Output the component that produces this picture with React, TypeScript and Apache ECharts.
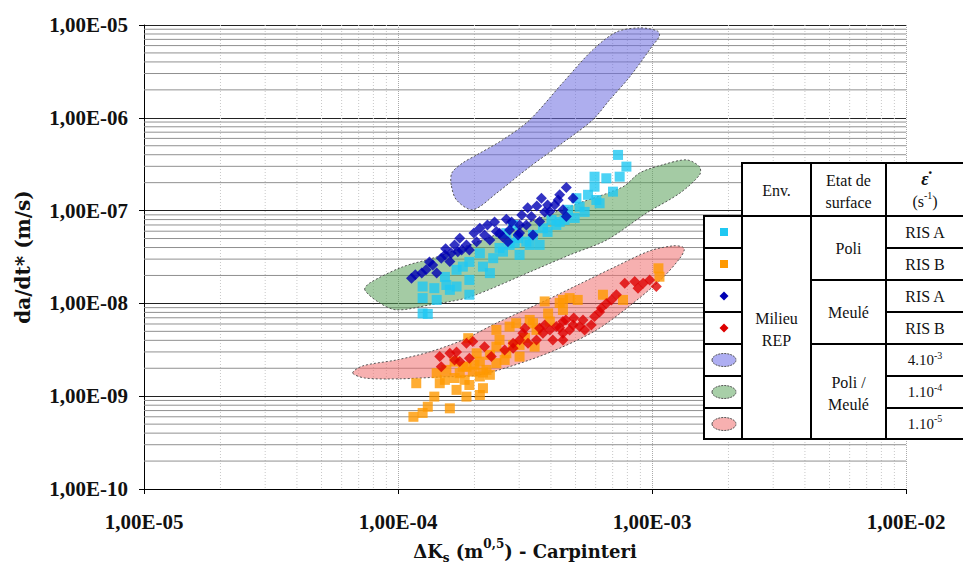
import React, { useEffect, useRef } from "react";
import * as echarts from "echarts";

// ---- data ----
const xRange = [1e-5, 1e-2];
const yRange = [1e-10, 1e-5];

const cyanSquares: [number, number][] = [
  [1.25e-4, 7.8e-9], [1.31e-4, 7.7e-9], [1.25e-4, 1.14e-8], [1.42e-4, 1.09e-8], [1.25e-4, 1.52e-8],
  [1.39e-4, 1.46e-8], [1.55e-4, 1.58e-8], [1.7e-4, 1.52e-8], [1.91e-4, 1.24e-8], [1.7e-4, 2.3e-8],
  [1.8e-4, 2.49e-8], [2.37e-4, 3.07e-8], [2.16e-4, 2.49e-8], [2.3e-4, 2.12e-8], [2.1e-4, 3.47e-8],
  [2.59e-4, 3.61e-8], [2.67e-4, 5.71e-8], [2.75e-4, 4.27e-8], [2.97e-4, 5.04e-8], [3.2e-4, 4.63e-8],
  [3.4e-4, 5.47e-8], [3.72e-4, 6.46e-8], [4.02e-4, 7.94e-8], [4.2e-4, 7.01e-8], [4.53e-4, 7.94e-8],
  [4.67e-4, 1.02e-7], [5.04e-4, 1.36e-7], [5.19e-4, 1.1e-7], [5.6e-4, 1.48e-7], [6.04e-4, 1.3e-7],
  [6.22e-4, 1.2e-7], [5.94e-4, 1.81e-7], [5.94e-4, 2.32e-7], [6.61e-4, 2.23e-7], [7.46e-4, 2.32e-7],
  [7.02e-4, 1.6e-7], [7.93e-4, 2.98e-7], [7.35e-4, 3.98e-7], [2.84e-4, 7.01e-8], [1.91e-4, 2.8e-8],
  [1.53e-4, 1.93e-8], [3.61e-4, 4.27e-8], [4.96e-4, 8.34e-8], [5.43e-4, 9.68e-8],
  [2.51e-4, 3.96e-8], [2.88e-4, 4.49e-8], [3.3e-4, 4.27e-8], [3.88e-4, 5.89e-8], [4.33e-4, 7.55e-8],
  [1.91e-4, 1.79e-8], [1.6e-4, 1.4e-8], [3.01e-4, 3.33e-8],
];

const orangeSquares: [number, number][] = [
  [1.15e-4, 6.0e-10], [1.25e-4, 6.6e-10], [1.31e-4, 7.7e-10], [1.39e-4, 9.9e-10], [1.6e-4, 7.4e-10],
  [1.7e-4, 1.17e-9], [1.86e-4, 9.9e-10], [2.1e-4, 1.03e-9], [2.16e-4, 1.22e-9], [1.18e-4, 1.38e-9],
  [1.46e-4, 1.38e-9], [1.42e-4, 1.77e-9], [1.55e-4, 1.92e-9], [1.75e-4, 1.77e-9], [1.97e-4, 1.84e-9],
  [2.1e-4, 1.63e-9], [1.67e-4, 2.36e-9], [1.86e-4, 2.08e-9], [2.1e-4, 2.36e-9], [2.23e-4, 1.92e-9],
  [2.04e-4, 2.9e-9], [2.3e-4, 2.79e-9], [2.44e-4, 2.27e-9], [2.44e-4, 3.42e-9], [2.67e-4, 2.9e-9],
  [2.51e-4, 4.04e-9], [2.84e-4, 3.57e-9], [2.75e-4, 5.62e-9], [2.44e-4, 5.18e-9], [2.92e-4, 6.12e-9],
  [3.3e-4, 6.64e-9], [3.51e-4, 5.18e-9], [1.89e-4, 4.22e-9], [3.01e-4, 2.67e-9], [1.06e-3, 2.39e-8],
  [1.07e-3, 1.94e-8], [6.41e-4, 1.24e-8], [3.78e-4, 1.05e-8], [4.46e-4, 1.09e-8], [4.74e-4, 1.14e-8],
  [4.46e-4, 8.5e-9], [3.9e-4, 7.8e-9], [3.96e-4, 6.37e-9], [3.4e-4, 6.12e-9], [3.45e-4, 3.42e-9],
  [7.69e-4, 1.09e-8], [1.8e-4, 2.08e-9], [2.16e-4, 1.8e-9],
  [1.53e-4, 1.5e-9], [1.67e-4, 1.57e-9], [1.83e-4, 1.5e-9], [2.0e-4, 2.18e-9], [2.3e-4, 1.7e-9],
  [2.63e-4, 2.46e-9], [1.91e-4, 1.32e-9], [3.01e-4, 3.57e-9], [3.16e-4, 4.25e-9], [4.33e-4, 1.01e-8],
  [5.1e-4, 1.09e-8],
];

const blueDiamonds: [number, number][] = [
  [1.13e-4, 1.87e-8], [1.24e-4, 2.12e-8], [1.29e-4, 2.3e-8], [1.42e-4, 2.12e-8], [1.37e-4, 2.6e-8],
  [1.48e-4, 3.07e-8], [1.6e-4, 2.82e-8], [1.54e-4, 3.87e-8], [1.62e-4, 3.47e-8], [1.72e-4, 3.61e-8],
  [1.91e-4, 3.77e-8], [1.75e-4, 5.04e-8], [1.86e-4, 4.27e-8], [2.04e-4, 4.63e-8], [2.1e-4, 6.46e-8],
  [2.19e-4, 5.47e-8], [2.3e-4, 4.83e-8], [2.44e-4, 5.94e-8], [2.58e-4, 5.24e-8], [2.67e-4, 8.08e-8],
  [2.51e-4, 5.71e-8], [2.71e-4, 4.63e-8], [2.75e-4, 6.19e-8], [2.97e-4, 5.47e-8], [3.2e-4, 7.01e-8],
  [3.35e-4, 8.62e-8], [3.61e-4, 7.61e-8], [3.67e-4, 1.36e-7], [3.96e-4, 9.75e-8], [4.27e-4, 1.3e-7],
  [4.46e-4, 1.02e-7], [4.6e-4, 8.62e-8], [4.89e-4, 1.36e-7], [4.6e-4, 1.77e-7], [3.4e-4, 5.47e-8],
  [3.01e-4, 7.01e-8], [1.67e-4, 4.27e-8], [1.17e-4, 2.03e-8], [3.88e-4, 1.15e-7],
  [2.25e-4, 7.01e-8], [2.4e-4, 7.55e-8], [2.8e-4, 7.55e-8], [3.07e-4, 8.99e-8], [3.24e-4, 1.07e-7],
  [3.52e-4, 1.12e-7], [3.78e-4, 9.68e-8], [4.14e-4, 1.15e-7], [4.33e-4, 1.48e-7], [3.01e-4, 5.75e-8],
  [1.99e-4, 5.75e-8], [1.78e-4, 3.77e-8], [1.33e-4, 2.8e-8], [1.53e-4, 3.33e-8],
];

const redDiamonds: [number, number][] = [
  [1.46e-4, 2.67e-9], [1.6e-4, 2.9e-9], [1.48e-4, 2.08e-9], [1.67e-4, 2.46e-9], [1.75e-4, 2.36e-9],
  [1.91e-4, 2.57e-9], [1.86e-4, 3.72e-9], [1.97e-4, 3.88e-9], [2.19e-4, 3.42e-9], [2.33e-4, 2.67e-9],
  [2.84e-4, 3.72e-9], [2.84e-4, 3.29e-9], [3.1e-4, 4.78e-9], [3.16e-4, 5.41e-9], [3.25e-4, 3.72e-9],
  [3.51e-4, 4.04e-9], [3.72e-4, 4.78e-9], [3.61e-4, 5.41e-9], [3.96e-4, 5.18e-9], [4.07e-4, 4.04e-9],
  [4.2e-4, 5.62e-9], [4.46e-4, 6.37e-9], [4.46e-4, 4.78e-9], [4.46e-4, 4.04e-9], [4.74e-4, 5.18e-9],
  [4.89e-4, 5.86e-9], [5.19e-4, 5.62e-9], [5.35e-4, 6.64e-9], [5.77e-4, 5.86e-9], [5.94e-4, 7.21e-9],
  [6.32e-4, 8.9e-9], [6.61e-4, 1.0e-8], [6.92e-4, 1.09e-8], [7.24e-4, 1.24e-8], [7.81e-4, 1.65e-8],
  [8.55e-4, 1.72e-8], [8.81e-4, 1.46e-8], [9.23e-4, 1.65e-8], [9.79e-4, 1.79e-8], [1.04e-3, 1.52e-8],
  [3.78e-4, 5.86e-9], [4.33e-4, 5.45e-9], [4.58e-4, 6.64e-9], [4.92e-4, 6.98e-9], [5.43e-4, 5.18e-9],
  [3.01e-4, 4.04e-9], [2.63e-4, 3.15e-9], [1.7e-4, 3.0e-9], [6.22e-4, 8.1e-9],
];

// envelopes (outline vertices, in data units)
const blueBand: [number, number][] = [
  [1.62e-4, 1.89e-7], [1.63e-4, 2.55e-7], [1.8e-4, 3.27e-7], [2.04e-4, 3.98e-7], [2.58e-4, 5.78e-7],
  [3.3e-4, 9.49e-7], [4.45e-4, 2.38e-6], [5.84e-4, 5.39e-6], [7.26e-4, 8.43e-6], [8.95e-4, 9.31e-6],
  [1.05e-3, 8.63e-6], [1.07e-3, 7.64e-6], [9.97e-4, 5.81e-6], [8.17e-4, 2.76e-6], [6.81e-4, 1.56e-6],
  [5.84e-4, 9.49e-7], [4.45e-4, 5.37e-7], [3.3e-4, 2.96e-7], [2.45e-4, 1.55e-7], [1.97e-4, 1.02e-7],
  [1.7e-4, 1.3e-7],
];
const greenBand: [number, number][] = [
  [7.4e-5, 1.4e-8], [7.74e-5, 1.66e-8], [1.04e-4, 2.47e-8], [1.42e-4, 3.17e-8], [3.3e-4, 7.55e-8],
  [5.19e-4, 1.21e-7], [7.67e-4, 1.8e-7], [8.95e-4, 2.55e-7], [1.1e-3, 3.11e-7], [1.37e-3, 3.52e-7],
  [1.54e-3, 2.96e-7], [1.54e-3, 2.43e-7], [1.29e-3, 1.55e-7], [9.53e-4, 9.45e-8], [6.64e-4, 4.83e-8],
  [4.74e-4, 3.33e-8], [3.3e-4, 2.18e-8], [1.91e-4, 1.17e-8], [1.33e-4, 9.63e-9], [9.88e-5, 8.51e-9],
  [8.47e-5, 1.01e-8],
];
const redBand: [number, number][] = [
  [6.63e-5, 1.78e-9], [7.26e-5, 2.12e-9], [9.88e-5, 2.46e-9], [1.33e-4, 3.0e-9], [1.8e-4, 4.04e-9],
  [2.45e-4, 6.17e-9], [3.85e-4, 1.09e-8], [5.19e-4, 1.62e-8], [7.0e-4, 2.41e-8], [9.79e-4, 3.68e-8],
  [1.21e-3, 4.17e-8], [1.32e-3, 4.06e-8], [1.34e-3, 3.77e-8], [1.29e-3, 3.09e-8], [1.1e-3, 1.88e-8],
  [8.17e-4, 9.4e-9], [6.06e-4, 5.18e-9], [4.45e-4, 3.4e-9], [3.3e-4, 2.46e-9], [2.1e-4, 1.7e-9],
  [1.46e-4, 1.61e-9], [1.02e-4, 1.54e-9], [7.4e-5, 1.57e-9],
];

// table texts
const envHeader = "Env.";
const surfHeader = "Etat de\nsurface";
const envText = "Milieu\nREP";
const surfTexts = ["Poli", "Meulé", "Poli /\nMeulé"];
const risTexts = ["RIS A", "RIS B", "RIS A", "RIS B"];
const rateBases = ["4.10", "1.10", "1.10"];
const rateExps = ["-3", "-4", "-5"];

const SERIF = "Liberation Serif";
const WIDE = "DejaVu Serif";

function minorValues(lo: number, hi: number): number[] {
  const out: number[] = [];
  for (let e = lo; e < hi; e++) for (let k = 2; k <= 9; k++) out.push(k * Math.pow(10, e));
  return out;
}

function fmt(v: number): string {
  const e = Math.round(Math.log10(v));
  return "1,00E-" + String(-e).padStart(2, "0");
}

function band(pts: [number, number][], fill: string) {
  return {
    type: "custom",
    coordinateSystem: "cartesian2d",
    silent: true,
    z: 2,
    data: pts,
    renderItem: (params: any, api: any) => {
      if (params.dataIndex !== 0) return null;
      const points = pts.map((p) => api.coord(p));
      return {
        type: "polygon",
        shape: { points, smooth: 0.3 },
        style: { fill, stroke: "#555", lineWidth: 1, lineDash: [2, 2] },
      };
    },
  };
}

function buildTable() {
  const L = 704, c1 = 742, c2 = 811, c3 = 886, R = 966;
  const top = 163, hdr = 216;
  const rows = [216, 248, 280, 312, 344, 376, 408, 439];
  const els: any[] = [];
  const Z = 100;
  els.push({ type: "rect", z: Z, shape: { x: c1, y: top, width: R - c1, height: hdr - top }, style: { fill: "#fff" } });
  els.push({ type: "rect", z: Z, shape: { x: L, y: hdr, width: R - L, height: rows[7] - hdr }, style: { fill: "#fff" } });
  const line = (x1: number, y1: number, x2: number, y2: number) =>
    els.push({ type: "line", z: Z + 2, shape: { x1, y1, x2, y2 }, style: { stroke: "#000", lineWidth: 2 } });
  line(c1 - 1, top, R, top);
  line(L - 1, hdr, R, hdr);
  line(L - 1, rows[7], R, rows[7]);
  line(L, hdr, L, rows[7]);
  line(c1, top, c1, rows[7]);
  line(c2, top, c2, rows[7]);
  line(c3, top, c3, rows[7]);
  for (let i = 1; i < 7; i++) {
    line(L, rows[i], c1, rows[i]);
    line(c3, rows[i], R, rows[i]);
  }
  line(c2, rows[2], c3, rows[2]);
  line(c2, rows[4], c3, rows[4]);

  const txt = (text: string, x: number, y: number, extra: any = {}) =>
    els.push({
      type: "text", z: Z + 3,
      style: { text, x, y, fill: "#111", fontSize: 16, fontFamily: SERIF, align: "center", verticalAlign: "middle", lineHeight: 22, ...extra },
    });
  const cx1 = (c1 + c2) / 2, cx2 = (c2 + c3) / 2, cx3 = (c3 + R) / 2 - 1, cx0 = (L + c1) / 2 + 1;
  txt(envHeader, cx1, 190);
  txt(surfHeader, cx2, 191);
  txt("{e|\u03B5\u0307}\n{a|(s}{s|-1}{a|)}", cx3, 190, {
    rich: {
      e: { fontSize: 18, fontWeight: "bold", fontStyle: "italic", fontFamily: SERIF, lineHeight: 22 },
      a: { fontSize: 16, fontFamily: SERIF, lineHeight: 22 },
      s: { fontSize: 10, fontFamily: SERIF, lineHeight: 12, verticalAlign: "top" },
    },
  });
  txt(envText, cx1, 329);
  txt(surfTexts[0], cx2, rows[1]);
  txt(surfTexts[1], cx2, rows[3]);
  txt(surfTexts[2], cx2, 393);
  for (let i = 0; i < 4; i++) txt(risTexts[i], cx3, (rows[i] + rows[i + 1]) / 2);
  for (let i = 0; i < 3; i++)
    txt("{a|" + rateBases[i] + "}{s|" + rateExps[i] + "}", cx3, (rows[4 + i] + rows[5 + i]) / 2, {
      rich: {
        a: { fontSize: 15, fontFamily: SERIF, lineHeight: 20 },
        s: { fontSize: 10, fontFamily: SERIF, lineHeight: 12, verticalAlign: "top" },
      },
    });

  // markers
  const sq = (y: number, color: string) =>
    els.push({ type: "rect", z: Z + 3, shape: { x: cx0 - 4, y: y - 4, width: 8, height: 8 }, style: { fill: color } });
  const di = (y: number, color: string) =>
    els.push({ type: "polygon", z: Z + 3, shape: { points: [[cx0, y - 4.5], [cx0 + 4.5, y], [cx0, y + 4.5], [cx0 - 4.5, y]] }, style: { fill: color } });
  const el = (y: number, color: string) =>
    els.push({ type: "ellipse", z: Z + 3, shape: { cx: cx0, cy: y, rx: 12, ry: 6.5 }, style: { fill: color, stroke: "#555", lineWidth: 1, lineDash: [2, 1] } });
  sq(232, "#1fc8f2");
  sq(264, "#ff9900");
  di(296, "#0000b4");
  di(328, "#dd0000");
  el(360, "#aeaef2");
  el(392, "#a8cfa8");
  el(424, "#f7b0b0");
  return els;
}

export default function App() {
  const ref = useRef<HTMLDivElement>(null);
  useEffect(() => {
    if (!ref.current) return;
    const chart = echarts.init(ref.current, undefined, { renderer: "svg" });
    const minorX = minorValues(-5, -2);
    const minorY = minorValues(-10, -5);
    const option: any = {
      animation: false,
      backgroundColor: "#fff",
      textStyle: { fontFamily: SERIF },
      grid: { left: 144, right: 57, top: 25, bottom: 80 },
      xAxis: {
        type: "log",
        logBase: 10,
        min: xRange[0],
        max: xRange[1],
        name: "{a|\u0394K}{sub|s}{a| (m}{sup|0,5}{a|) - Carpinteri}",
        nameLocation: "middle",
        nameGap: 49,
        nameTextStyle: {
          rich: {
            a: { fontSize: 18, fontWeight: "bold", fontFamily: WIDE, color: "#111", lineHeight: 26 },
            sub: { fontSize: 12, fontWeight: "bold", fontFamily: WIDE, color: "#111", lineHeight: 12, verticalAlign: "bottom" },
            sup: { fontSize: 12, fontWeight: "bold", fontFamily: WIDE, color: "#111", lineHeight: 12, verticalAlign: "top" },
          },
        },
        axisLine: { show: true, lineStyle: { color: "#000", width: 1 } },
        axisTick: { show: true, length: 5, lineStyle: { color: "#000" } },
        axisLabel: { formatter: fmt, fontSize: 21, fontWeight: "bold", fontFamily: SERIF, color: "#111", margin: 22 },
        splitLine: { show: true, lineStyle: { color: "#aaa", type: "dotted" } },
      },
      yAxis: {
        type: "log",
        logBase: 10,
        min: yRange[0],
        max: yRange[1],
        name: "da/dt* (m/s)",
        nameLocation: "middle",
        nameGap: 111,
        nameTextStyle: { fontSize: 20, fontWeight: "bold", fontFamily: WIDE, color: "#111" },
        axisLine: { show: true, lineStyle: { color: "#000", width: 1 } },
        axisTick: { show: true, length: 5, lineStyle: { color: "#000" } },
        axisLabel: { formatter: fmt, fontSize: 21, fontWeight: "bold", fontFamily: SERIF, color: "#111", margin: 16 },
        splitLine: { show: true, lineStyle: { color: "#222", width: 1 } },
      },
      series: [
        {
          type: "custom",
          silent: true,
          z: 1,
          data: minorX.map((v) => [v, yRange[0]]),
          renderItem: (params: any, api: any) => {
            const cs = params.coordSys;
            const p = api.coord([api.value(0), api.value(1)]);
            return { type: "line", shape: { x1: p[0], y1: cs.y, x2: p[0], y2: cs.y + cs.height }, style: { stroke: "#c8c8c8", lineWidth: 1, lineDash: [1, 2] } };
          },
        },
        {
          type: "custom",
          silent: true,
          z: 1,
          data: minorY.map((v) => [xRange[0], v]),
          renderItem: (params: any, api: any) => {
            const cs = params.coordSys;
            const p = api.coord([api.value(0), api.value(1)]);
            return { type: "line", shape: { x1: cs.x, y1: p[1], x2: cs.x + cs.width, y2: p[1] }, style: { stroke: "#909090", lineWidth: 1 } };
          },
        },
        band(blueBand, "rgba(107,107,224,0.55)"),
        band(greenBand, "rgba(90,160,90,0.55)"),
        band(redBand, "rgba(240,112,112,0.55)"),
        { type: "scatter", name: "Poli RIS A", data: cyanSquares, symbol: "rect", symbolSize: 10, itemStyle: { color: "#1fc8f2" }, z: 3 },
        { type: "scatter", name: "Poli RIS B", data: orangeSquares, symbol: "rect", symbolSize: 10, itemStyle: { color: "#ff9900" }, z: 3 },
        { type: "scatter", name: "Meulé RIS A", data: blueDiamonds, symbol: "diamond", symbolSize: 11, itemStyle: { color: "#0000b4" }, z: 4 },
        { type: "scatter", name: "Meulé RIS B", data: redDiamonds, symbol: "diamond", symbolSize: 11, itemStyle: { color: "#dd0000" }, z: 4 },
      ],
      graphic: { elements: buildTable() },
    };
    chart.setOption(option);
    return () => chart.dispose();
  }, []);
  return <div ref={ref} style={{ position: "fixed", left: 0, top: 0, width: 963, height: 569 }} />;
}
